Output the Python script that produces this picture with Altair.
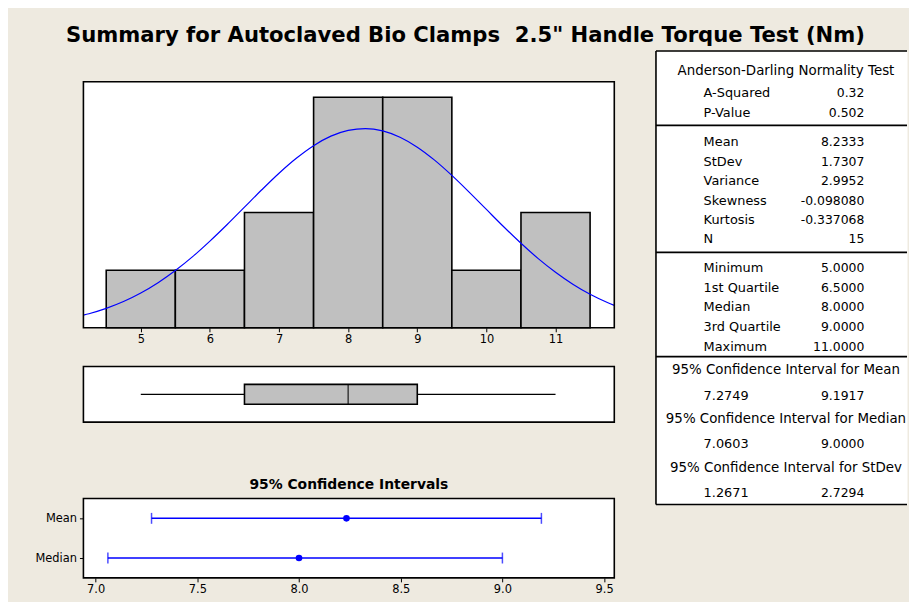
import altair as alt
import pandas as pd

# ---------------- data ----------------
bin_centers = [5, 6, 7, 8, 9, 10, 11]
bin_counts = [1, 1, 2, 4, 4, 1, 2]

curve_x = [4.17, 4.25, 4.5, 4.75, 5.0, 5.25, 5.5, 5.75, 6.0, 6.25, 6.5, 6.75, 7.0, 7.25,
           7.5, 7.75, 8.0, 8.25, 8.5, 8.75, 9.0, 9.25, 9.5, 9.75, 10.0, 10.25, 10.5, 10.75,
           11.0, 11.25, 11.5, 11.75, 11.85]
curve_y = [0.22, 0.245, 0.338, 0.456, 0.604, 0.783, 0.994, 1.235, 1.505, 1.793, 2.094, 2.395,
           2.683, 2.942, 3.161, 3.326, 3.427, 3.458, 3.417, 3.307, 3.135, 2.910, 2.645, 2.355,
           2.054, 1.754, 1.467, 1.201, 0.964, 0.757, 0.582, 0.439, 0.39]
hist_ticks = [5, 6, 7, 8, 9, 10, 11]

box_min, box_q1, box_median, box_q3, box_max = 5.0, 6.5, 8.0, 9.0, 11.0

ci_labels = ["Mean", "Median"]
ci_est = [8.2333, 8.0]
ci_lo = [7.2749, 7.0603]
ci_hi = [9.1917, 9.0]
ci_ticks = [7.0, 7.5, 8.0, 8.5, 9.0, 9.5]

ad_header = "Anderson-Darling Normality Test"
ad_labels = ["A-Squared", "P-Value"]
ad_values = ["0.32", "0.502"]
desc_labels = ["Mean", "StDev", "Variance", "Skewness", "Kurtosis", "N"]
desc_values = ["8.2333", "1.7307", "2.9952", "-0.098080", "-0.337068", "15"]
quant_labels = ["Minimum", "1st Quartile", "Median", "3rd Quartile", "Maximum"]
quant_values = ["5.0000", "6.5000", "8.0000", "9.0000", "11.0000"]
ci_titles = ["95% Confidence Interval for Mean",
             "95% Confidence Interval for Median",
             "95% Confidence Interval for StDev"]
ci_low_text = ["7.2749", "7.0603", "1.2671"]
ci_high_text = ["9.1917", "9.0000", "2.7294"]

title_text = 'Summary for Autoclaved Bio Clamps\u00a0 2.5" Handle Torque Test (Nm)'

# ---------------- layout / style ----------------
FONT = "DejaVu Sans"
BG = "#EEEAE0"
GREY = "#C0C0C0"
BLUE = "#0000FF"
PW = 535          # plot width of left panels
HIST_H, BOX_H, CI_H = 248, 56, 80
TW, TH = 253, 457  # table size
hidden = alt.ViewBackground(stroke="transparent", fill="transparent")


def spacer(h):
    return alt.Chart(pd.DataFrame({"v": [0]})).mark_point(opacity=0).encode(
        x=alt.X("v:Q", axis=None), y=alt.Y("v:Q", axis=None)
    ).properties(width=PW, height=h, view=hidden)


def frame(h):
    return alt.Chart(pd.DataFrame({"v": [0]})).mark_rect(
        fill="transparent", stroke="#000", strokeWidth=1.6
    ).encode(x=alt.value(0), x2=alt.value(PW), y=alt.value(0), y2=alt.value(h))


x_scale = alt.Scale(domain=[4.17, 11.85], nice=False, zero=False)

# histogram
hist_df = pd.DataFrame({"center": bin_centers, "count": bin_counts})
bars = alt.Chart(hist_df).transform_calculate(
    lo="datum.center - 0.5", hi="datum.center + 0.5", zero="0"
).mark_rect(fill=GREY, stroke="#000", strokeWidth=1.6).encode(
    x=alt.X("lo:Q", scale=x_scale,
            axis=alt.Axis(values=hist_ticks, format="d", title=None, domain=False, grid=False,
                          tickSize=4, tickColor="#000", labelFontSize=11.5, labelPadding=2,
                          labelColor="#000", labelFont=FONT)),
    x2="hi:Q",
    y=alt.Y("count:Q", scale=alt.Scale(domain=[0, 4.27], nice=False), axis=None),
    y2="zero:Q",
)
curve_df = pd.DataFrame({"x": curve_x, "y": curve_y})
curve = alt.Chart(curve_df).mark_line(color=BLUE, strokeWidth=1.2, interpolate="monotone",
                                      clip=True).encode(
    x=alt.X("x:Q", scale=x_scale), y=alt.Y("y:Q")
)
hist = alt.layer(bars, curve, frame(HIST_H)).properties(width=PW, height=HIST_H)

# box plot
box_df = pd.DataFrame({"cat": ["a"], "mn": [box_min], "q1": [box_q1], "md": [box_median],
                       "q3": [box_q3], "mx": [box_max]})
yb = alt.Y("cat:N", axis=None)
whisk = alt.Chart(box_df).mark_rule(color="#000", strokeWidth=1.2).encode(
    x=alt.X("mn:Q", scale=x_scale, axis=None), x2="mx:Q", y=yb)
boxr = alt.Chart(box_df).mark_bar(size=20, fill=GREY, stroke="#000", strokeWidth=1.6).encode(
    x=alt.X("q1:Q", scale=x_scale, axis=None), x2="q3:Q", y=yb)
med = alt.Chart(box_df).mark_tick(size=20, thickness=1.5, color="#000").encode(
    x=alt.X("md:Q", scale=x_scale, axis=None), y=yb)
box = alt.layer(whisk, boxr, med, frame(BOX_H)).properties(width=PW, height=BOX_H)

# confidence intervals
ci_df = pd.DataFrame({"stat": ci_labels, "est": ci_est, "lo": ci_lo, "hi": ci_hi})
cx = alt.Scale(domain=[6.94, 9.55], nice=False, zero=False)
cy = alt.Y("stat:N", sort=ci_labels, scale=alt.Scale(type="point", padding=0.5),
           axis=alt.Axis(title=None, domain=False, tickSize=4, tickColor="#000",
                         labelFontSize=11.5, labelPadding=3, labelColor="#000", labelFont=FONT))
xaxis = alt.Axis(values=ci_ticks, format=".1f", title=None, domain=False, grid=False, tickSize=4,
                 tickColor="#000", labelFontSize=11.5, labelPadding=2, labelColor="#000",
                 labelFont=FONT)
ci_line = alt.Chart(ci_df).mark_rule(color=BLUE, strokeWidth=1.5).encode(
    x=alt.X("lo:Q", scale=cx, axis=xaxis), x2="hi:Q", y=cy)
ci_lt = alt.Chart(ci_df).mark_tick(size=11, thickness=1.5, color=BLUE).encode(
    x=alt.X("lo:Q", scale=cx), y=cy)
ci_ht = alt.Chart(ci_df).mark_tick(size=11, thickness=1.5, color=BLUE).encode(
    x=alt.X("hi:Q", scale=cx), y=cy)
ci_pt = alt.Chart(ci_df).mark_point(filled=True, size=45, color=BLUE, opacity=1).encode(
    x=alt.X("est:Q", scale=cx), y=cy)
ci = alt.layer(ci_line, ci_lt, ci_ht, ci_pt, frame(CI_H)).properties(
    width=PW, height=CI_H,
    title=alt.TitleParams("95% Confidence Intervals", font=FONT, fontSize=14, fontWeight="bold",
                          color="#000", anchor="middle", frame="group", offset=6))

# ---------------- table ----------------
LX, VX, CX = 48, 210, 131
rows_l, rows_v, rows_c = [], [], []
rows_c.append({"x": CX, "y": 20, "t": ad_header})
for i, (l, v) in enumerate(zip(ad_labels, ad_values)):
    rows_l.append({"x": LX, "y": 42 + 21 * i, "t": l})
    rows_v.append({"x": VX, "y": 42 + 21 * i, "t": v})
for i, (l, v) in enumerate(zip(desc_labels, desc_values)):
    rows_l.append({"x": LX, "y": 92 + 19.6 * i, "t": l})
    rows_v.append({"x": VX, "y": 92 + 19.6 * i, "t": v})
for i, (l, v) in enumerate(zip(quant_labels, quant_values)):
    rows_l.append({"x": LX, "y": 219 + 19.75 * i, "t": l})
    rows_v.append({"x": VX, "y": 219 + 19.75 * i, "t": v})
for i, (h, a, b) in enumerate(zip(ci_titles, ci_low_text, ci_high_text)):
    rows_c.append({"x": CX, "y": 322 + 49 * i, "t": h})
    rows_l.append({"x": LX, "y": 348 + 48.5 * i, "t": a})
    rows_v.append({"x": VX, "y": 348 + 48.5 * i, "t": b})
dividers = [0, 75, 203, 308, TH]

tx = alt.Scale(domain=[0, TW], nice=False, zero=False)
ty = alt.Scale(domain=[0, TH], nice=False, zero=False, reverse=True)


def tlayer(rows, align, size):
    return alt.Chart(pd.DataFrame(rows)).mark_text(
        align=align, baseline="middle", font=FONT, fontSize=size, color="#000"
    ).encode(x=alt.X("x:Q", scale=tx, axis=None), y=alt.Y("y:Q", scale=ty, axis=None), text="t:N")


hrules = alt.Chart(pd.DataFrame({"y": dividers, "x0": [0] * 5, "x1": [TW] * 5})).mark_rule(
    color="#000", strokeWidth=1.6).encode(
    x=alt.X("x0:Q", scale=tx, axis=None), x2="x1:Q", y=alt.Y("y:Q", scale=ty, axis=None))
vrule = alt.Chart(pd.DataFrame({"x": [0], "y0": [0], "y1": [TH]})).mark_rule(
    color="#000", strokeWidth=1.6).encode(
    x=alt.X("x:Q", scale=tx, axis=None), y=alt.Y("y0:Q", scale=ty, axis=None), y2="y1:Q")
table = alt.layer(tlayer(rows_l, "left", 13), tlayer(rows_v, "right", 12.5),
                  tlayer(rows_c, "center", 13.5), hrules, vrule).properties(
    width=TW, height=TH)

left = alt.vconcat(spacer(31), hist, spacer(39), box, spacer(77), ci, spacing=0, bounds="flush")

chart = alt.hconcat(left, table, spacing=38, bounds="full").properties(
    title=alt.TitleParams(title_text, font=FONT, fontSize=21.3,
                          fontWeight="bold", color="#000", anchor="middle",
                          baseline="alphabetic", offset=-14, dx=-6),
    padding={"left": 26, "top": 15, "right": 0, "bottom": 4},
    background=BG,
).configure_view(stroke="transparent", fill="white")

chart.save("out.html", embed_options={"renderer": "svg", "actions": False})
